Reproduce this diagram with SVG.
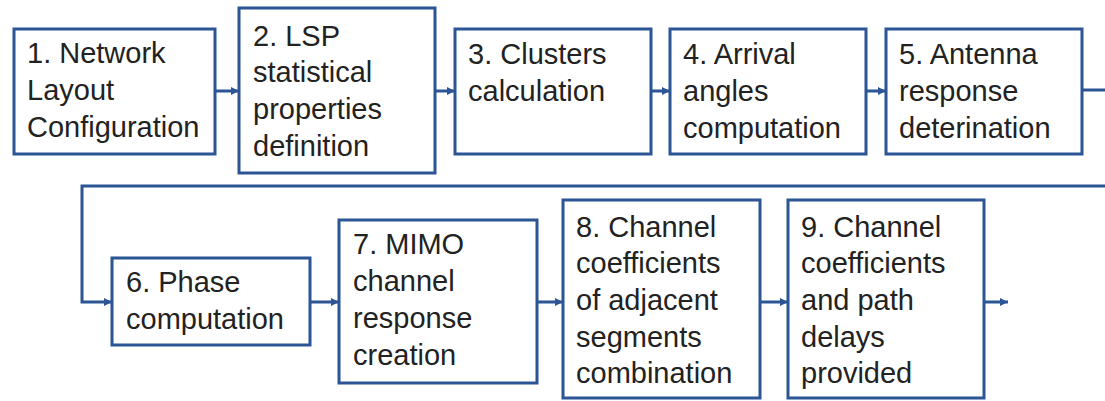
<svg xmlns="http://www.w3.org/2000/svg" width="1105" height="401" viewBox="0 0 1105 401">
<style>
.box{fill:#fff;stroke:#2B5594;stroke-width:3}
.t{font-family:"Liberation Sans",Arial,sans-serif;font-size:29px;fill:#222}
.c{fill:none;stroke:#2B5594;stroke-width:3}
</style>
<defs>
<marker id="ah" markerUnits="userSpaceOnUse" markerWidth="10" markerHeight="10" refX="9" refY="5" orient="auto">
<path d="M1,1 L9,5 L1,9 Z" fill="#2B5594"/>
</marker>
</defs>
<rect width="1105" height="401" fill="#fff"/>
<g id="connectors">
<line class="c" x1="215" y1="91" x2="239" y2="91" marker-end="url(#ah)"/>
<line class="c" x1="435" y1="91" x2="455" y2="91" marker-end="url(#ah)"/>
<line class="c" x1="651" y1="91" x2="670" y2="91" marker-end="url(#ah)"/>
<line class="c" x1="866" y1="91" x2="886" y2="91" marker-end="url(#ah)"/>
<line class="c" x1="1082" y1="90" x2="1106" y2="90"/>
<polyline class="c" points="1106,186 82,186 82,302 112,302" marker-end="url(#ah)"/>
<line class="c" x1="310" y1="302" x2="339" y2="302" marker-end="url(#ah)"/>
<line class="c" x1="537" y1="302" x2="563" y2="302" marker-end="url(#ah)"/>
<line class="c" x1="760" y1="302" x2="788" y2="302" marker-end="url(#ah)"/>
<line class="c" x1="984" y1="302" x2="1008" y2="302" marker-end="url(#ah)"/>
</g>
<g id="n1"><rect class="box" x="14" y="29" width="201" height="125"/>
<text class="t" x="27" y="63">1. Network</text><text class="t" x="27" y="100">Layout</text><text class="t" x="27" y="137">Configuration</text></g>
<g id="n2"><rect class="box" x="239" y="8" width="196" height="165"/>
<text class="t" x="253" y="46">2. LSP</text><text class="t" x="253" y="82">statistical</text><text class="t" x="253" y="119">properties</text><text class="t" x="253" y="156">definition</text></g>
<g id="n3"><rect class="box" x="455" y="29" width="196" height="125"/>
<text class="t" x="468" y="64">3. Clusters</text><text class="t" x="468" y="101">calculation</text></g>
<g id="n4"><rect class="box" x="670" y="29" width="196" height="125"/>
<text class="t" x="683" y="64">4. Arrival</text><text class="t" x="683" y="101">angles</text><text class="t" x="683" y="138">computation</text></g>
<g id="n5"><rect class="box" x="886" y="29" width="196" height="125"/>
<text class="t" x="899" y="64">5. Antenna</text><text class="t" x="899" y="101">response</text><text class="t" x="899" y="138">deterination</text></g>
<g id="n6"><rect class="box" x="112" y="258" width="198" height="87"/>
<text class="t" x="126" y="292">6. Phase</text><text class="t" x="126" y="329">computation</text></g>
<g id="n7"><rect class="box" x="339" y="220" width="198" height="163"/>
<text class="t" x="353" y="254">7. MIMO</text><text class="t" x="353" y="291">channel</text><text class="t" x="353" y="328">response</text><text class="t" x="353" y="365">creation</text></g>
<g id="n8"><rect class="box" x="563" y="200" width="197" height="198"/>
<text class="t" x="576" y="237">8. Channel</text><text class="t" x="576" y="273">coefficients</text><text class="t" x="576" y="310">of adjacent</text><text class="t" x="576" y="347">segments</text><text class="t" x="576" y="383">combination</text></g>
<g id="n9"><rect class="box" x="788" y="200" width="196" height="198"/>
<text class="t" x="801" y="237">9. Channel</text><text class="t" x="801" y="273">coefficients</text><text class="t" x="801" y="310">and path</text><text class="t" x="801" y="347">delays</text><text class="t" x="801" y="383">provided</text></g>
</svg>
